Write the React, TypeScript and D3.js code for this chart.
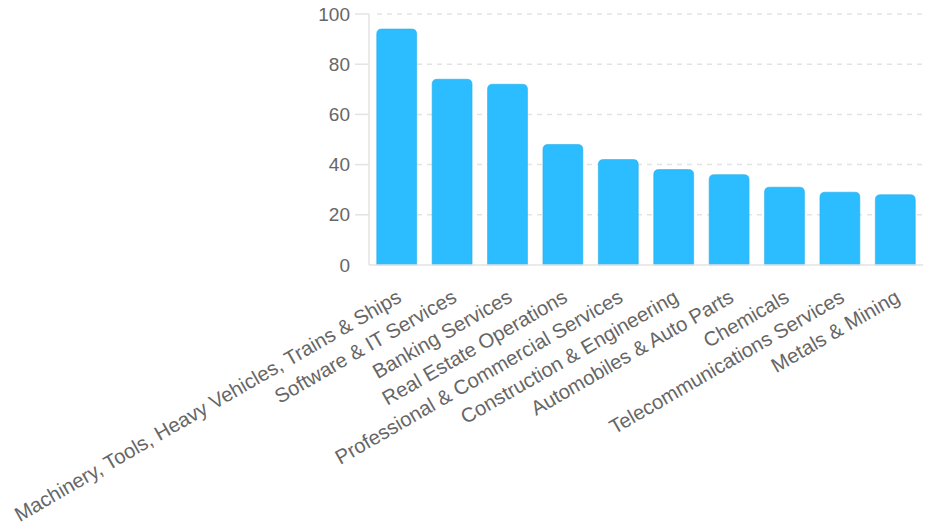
import React from "react";
import * as d3 from "d3";

const categories = [
  "Machinery, Tools, Heavy Vehicles, Trains & Ships",
  "Software & IT Services",
  "Banking Services",
  "Real Estate Operations",
  "Professional & Commercial Services",
  "Construction & Engineering",
  "Automobiles & Auto Parts",
  "Chemicals",
  "Telecommunications Services",
  "Metals & Mining",
];
const values = [94, 74, 72, 48, 42, 38, 36, 31, 29, 28];
const yTicks = [0, 20, 40, 60, 80, 100];

const W = 925;
const H = 527;
const left = 369;
const right = 923;
const top = 14;
const bottom = 265;

function barPath(x: number, y: number, w: number, h: number, r: number) {
  const rr = Math.min(r, h, w / 2);
  return `M${x},${y + h}V${y + rr}Q${x},${y} ${x + rr},${y}H${x + w - rr}Q${x + w},${y} ${x + w},${y + rr}V${y + h}Z`;
}

export default function App() {
  const x = d3
    .scaleBand<string>()
    .domain(categories)
    .range([left, right])
    .paddingInner(0.28)
    .paddingOuter(0.14);
  const y = d3.scaleLinear().domain([0, 100]).range([bottom, top]);
  const font = "'Liberation Sans', Arial, Helvetica, sans-serif";

  return (
    <svg
      width={W}
      height={H}
      style={{ position: "absolute", left: 0, top: 0, background: "#fff" }}
    >
      {yTicks.filter((t) => t > 0).map((t) => (
        <g key={t}>
          <line x1={355} x2={left} y1={y(t)} y2={y(t)} stroke="#e3e3e3" strokeWidth={1.5} />
          <line
            x1={left + 8}
            x2={right}
            y1={y(t)}
            y2={y(t)}
            stroke="#e3e3e3"
            strokeWidth={1.5}
            strokeDasharray="5,5"
          />
        </g>
      ))}
      {categories.map((c, i) => {
        const bx = x(c)!;
        const bw = x.bandwidth();
        const by = y(values[i]);
        return (
          <path
            key={c}
            d={barPath(bx, by, bw, bottom - by, 5)}
            fill="#2bbdff"
            stroke="#26aeea"
            strokeWidth={0.6}
          />
        );
      })}
      <line x1={left} x2={left} y1={top} y2={bottom} stroke="#e3e3e3" strokeWidth={1.5} />
      <line x1={left} x2={right} y1={bottom} y2={bottom} stroke="#e3e3e3" strokeWidth={1.5} />
      {yTicks.map((t) => (
        <text
          key={t}
          x={350}
          y={y(t)}
          dy="0.35em"
          textAnchor="end"
          fontFamily={font}
          fontSize={19}
          fill="#666"
        >
          {t}
        </text>
      ))}
      {categories.map((c) => {
        const cx = x(c)! + x.bandwidth() / 2;
        return (
          <text
            key={c}
            transform={`translate(${cx + 6},${301}) rotate(-30)`}
            textAnchor="end"
            fontFamily={font}
            fontSize={20.3}
            fill="#666"
          >
            {c}
          </text>
        );
      })}
    </svg>
  );
}
